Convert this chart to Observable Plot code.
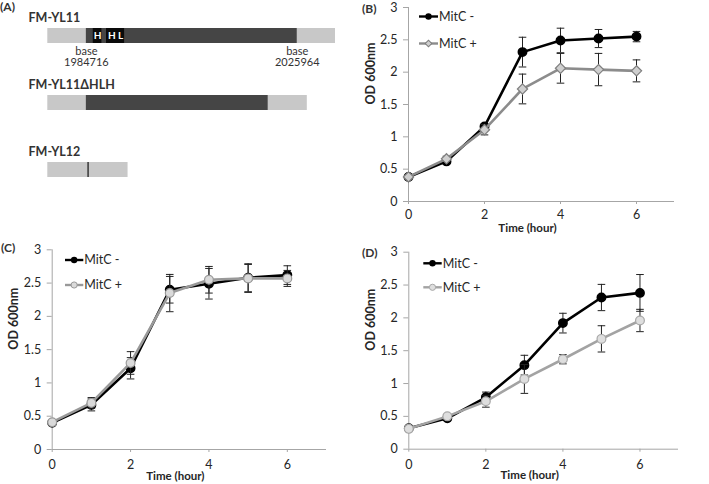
<!DOCTYPE html>
<html>
<head>
<meta charset="utf-8">
<script src="https://cdn.jsdelivr.net/npm/d3@7"></script>
<script src="https://cdn.jsdelivr.net/npm/@observablehq/plot@0.6"></script>
<style>
  html, body { margin: 0; padding: 0; background: #fff; }
  #fig { position: relative; width: 709px; height: 484px; overflow: hidden; background: #fff; font-family: Lato, "Open Sans", sans-serif; }
</style>
</head>
<body>
<div id="fig"></div>
<script>
// ---------- Panel A data (schematic, relative units along the locus) ----------
const constructs = ["FM-YL11", "FM-YL11ΔHLH", "FM-YL12"];
const flankStart = [0, 0, 0];
const flankEnd = [1000, 902, 279];
const orfStart = [134, 134];
const orfEnd = [867, 766];
const motifNames = ["H", "H L"];
const motifStart = [158, 204];
const motifEnd = [188, 267];
const baseLabels = ["base\n1984716", "base\n2025964"];
const basePos = [134, 867];
const insertionPos = [140];

// ---------- Growth curve data ----------
const hours = [0, 1, 2, 3, 4, 5, 6];
const seriesNames = ["MitC -", "MitC +"];
const xTicks = [0, 2, 4, 6];
const yTicks = [0, 0.5, 1, 1.5, 2, 2.5, 3];
const panelLetters = ["(A)", "(B)", "(C)", "(D)"];
const xTitle = "Time (hour)";
const yTitle = "OD 600nm";

const bMinus    = [0.38, 0.62, 1.16, 2.31, 2.49, 2.52, 2.55];
const bMinusErr = [0.02, 0.03, 0.04, 0.23, 0.19, 0.14, 0.08];
const bPlus     = [0.38, 0.66, 1.11, 1.74, 2.06, 2.04, 2.02];
const bPlusErr  = [0.02, 0.04, 0.08, 0.23, 0.23, 0.25, 0.17];

const cMinus    = [0.40, 0.67, 1.22, 2.40, 2.49, 2.58, 2.62];
const cMinusErr = [0.02, 0.09, 0.16, 0.20, 0.23, 0.21, 0.14];
const cPlus     = [0.41, 0.70, 1.30, 2.35, 2.55, 2.57, 2.57];
const cPlusErr  = [0.02, 0.08, 0.17, 0.28, 0.20, 0.21, 0.12];

const dMinus    = [0.32, 0.47, 0.79, 1.28, 1.92, 2.31, 2.38];
const dMinusErr = [0.02, 0.03, 0.08, 0.15, 0.15, 0.20, 0.28];
const dPlus     = [0.31, 0.50, 0.73, 1.07, 1.37, 1.68, 1.96];
const dPlusErr  = [0.02, 0.03, 0.09, 0.22, 0.07, 0.20, 0.17];

const FONT = "Lato, 'Open Sans', sans-serif";
const fig = document.getElementById("fig");

// custom symbols
const capSymbol = { draw(ctx, size) { const w = Math.sqrt(size / Math.PI); ctx.moveTo(-w, 0); ctx.lineTo(w, 0); } };
const vlineSymbol = { draw(ctx, size) { const h = Math.sqrt(size / Math.PI); ctx.moveTo(0, -h); ctx.lineTo(0, h); } };

function place(node, left, top) {
  node.style.position = "absolute";
  node.style.left = left + "px";
  node.style.top = top + "px";
  fig.appendChild(node);
}

// ---------- Panel A ----------
const flankRows = constructs.map((c, i) => ({c, s: flankStart[i], e: flankEnd[i]}));
const orfRows = orfStart.map((s, i) => ({c: constructs[i], s, e: orfEnd[i]}));
const motifRows = motifNames.map((m, i) => ({c: constructs[0], name: m, s: motifStart[i], e: motifEnd[i]}));
const baseRows = baseLabels.map((t, i) => ({c: constructs[0], t, x: basePos[i]}));
const insRows = insertionPos.map(x => ({c: constructs[2], x}));

const panelA = Plot.plot({
  width: 345, height: 200,
  margin: 0,
  x: {domain: [0, 1000], range: [47.3, 335], axis: null},
  y: {type: "point", domain: constructs, range: [34.8, 169.5], padding: 0, axis: null},
  style: {fontFamily: FONT, color: "#222", background: "transparent", overflow: "visible"},
  marks: [
    Plot.ruleY(flankRows, {y: "c", x1: "s", x2: "e", stroke: "#c8c8c8", strokeWidth: 15}),
    Plot.ruleY(orfRows, {y: "c", x1: "s", x2: "e", stroke: "#454545", strokeWidth: 15}),
    Plot.ruleY(motifRows, {y: "c", x1: "s", x2: "e", stroke: "#0a0a0a", strokeWidth: 15}),
    Plot.text(motifRows, {y: "c", x: d => (d.s + d.e) / 2, text: "name", fill: "white", fontWeight: "bold", fontSize: 10}),
    Plot.dot(insRows, {x: "x", y: "c", symbol: vlineSymbol, r: 7.5, stroke: "#222", strokeWidth: 1.3}),
    Plot.text(baseRows, {x: "x", y: "c", text: "t", lineAnchor: "top", dy: 11, fontSize: 11, lineHeight: 1.05, fill: "#333"}),
    Plot.text(constructs, {y: d => d, frameAnchor: "left", textAnchor: "start", dx: 28, dy: -18, text: d => d, fontWeight: "bold", fontSize: 12.5, fill: "#333"})
  ]
});
place(panelA, 0, 0);

// ---------- Growth panels ----------
function rows(vals, errs, s) {
  return hours.map((t, i) => ({t, v: vals[i], e: errs[i], s}));
}

function growth(o) {
  const minus = rows(o.minus, o.minusErr, seriesNames[0]);
  const plus = rows(o.plus, o.plusErr, seriesNames[1]);
  const errMarks = (data) => [
    Plot.ruleX(data, {x: "t", y1: d => d.v - d.e, y2: d => d.v + d.e, stroke: "#222", strokeWidth: 1}),
    Plot.dot(data, {x: "t", y: d => d.v + d.e, symbol: capSymbol, r: 3.8, stroke: "#222", strokeWidth: 1}),
    Plot.dot(data, {x: "t", y: d => d.v - d.e, symbol: capSymbol, r: 3.8, stroke: "#222", strokeWidth: 1})
  ];
  return Plot.plot({
    width: o.width, height: o.height,
    marginLeft: o.ml, marginRight: o.mr, marginTop: o.mt, marginBottom: o.mb,
    x: {domain: [0, 7]},
    y: {domain: [0, 3]},
    style: {fontFamily: FONT, fontSize: "12.5px", color: "#262626", background: "transparent", overflow: "visible"},
    marks: [
      Plot.axisY({ticks: yTicks, tickFormat: d => String(d), tickSize: 5, tickPadding: 6, stroke: "#a6a6a6", label: null, fontSize: 12.5}),
      Plot.axisX({ticks: xTicks, tickFormat: d => String(d), tickSize: 3, tickPadding: o.xtp, stroke: "#a6a6a6", label: null, fontSize: 12.5}),
      Plot.ruleY([0], {stroke: "#a6a6a6"}),
      Plot.ruleX([0], {stroke: "#a6a6a6"}),
      Plot.text([xTitle], {text: d => d, frameAnchor: "bottom", dy: o.xld, dx: o.xldx, fontWeight: "bold", fontSize: 11.5}),
      Plot.text([yTitle], {text: d => d, frameAnchor: "left", dx: -38, rotate: -90, fontWeight: "bold", fontSize: 12.5}),
      ...errMarks(minus),
      Plot.line(minus, {x: "t", y: "v", stroke: "#000", strokeWidth: 2.6}),
      Plot.dot(minus, {x: "t", y: "v", r: 4.2, fill: "#000", stroke: "#000"}),
      ...errMarks(plus),
      Plot.line(plus, {x: "t", y: "v", stroke: o.plusLine, strokeWidth: 2.6}),
      Plot.dot(plus, {x: "t", y: "v", symbol: o.plusSymbol, r: o.plusR, fill: o.plusFill, stroke: o.plusStroke, strokeWidth: 1.2})
    ]
  });
}

const panelB = growth({
  minus: bMinus, minusErr: bMinusErr, plus: bPlus, plusErr: bPlusErr,
  width: 349, height: 240, ml: 48, mr: 35, mt: 7, mb: 39,
  xtp: 6, xld: 30, xldx: -14,
  plusLine: "#8c8c8c", plusSymbol: "diamond2", plusR: 4.6, plusFill: "#cfcfcf", plusStroke: "#7f7f7f"
});
place(panelB, 360, 0);

const panelC = growth({
  minus: cMinus, minusErr: cMinusErr, plus: cPlus, plusErr: cPlusErr,
  width: 340, height: 244, ml: 51.7, mr: 14, mt: 9.3, mb: 35,
  xtp: 8, xld: 30, xldx: -14,
  plusLine: "#999999", plusSymbol: "circle", plusR: 4.4, plusFill: "#dadada", plusStroke: "#9a9a9a"
});
place(panelC, 0, 240);

const panelD = growth({
  minus: dMinus, minusErr: dMinusErr, plus: dPlus, plusErr: dPlusErr,
  width: 349, height: 244, ml: 48.3, mr: 31, mt: 11.7, mb: 35.3,
  xtp: 8, xld: 30, xldx: -14,
  plusLine: "#a3a3a3", plusSymbol: "circle", plusR: 4.4, plusFill: "#dedede", plusStroke: "#a8a8a8"
});
place(panelD, 360, 240);

// ---------- Overlay: panel letters and legends ----------
const overlay = d3.create("svg")
  .attr("width", 709).attr("height", 484)
  .style("position", "absolute").style("left", "0px").style("top", "0px")
  .style("font-family", FONT).style("pointer-events", "none");

const letterPos = [[0, 11], [362, 13], [1, 251.5], [362, 257]];
panelLetters.forEach((t, i) => {
  overlay.append("text").attr("x", letterPos[i][0]).attr("y", letterPos[i][1])
    .attr("font-size", 12).attr("font-weight", "bold").attr("fill", "#333").text(t);
});

const legends = [
  {x0: 419, x1: 438, y: [16.5, 43.5], plus: {sym: d3.symbolSquare, rot: 45, fill: "#cfcfcf", stroke: "#7f7f7f", line: "#8c8c8c"}},
  {x0: 65, x1: 83.3, y: [260, 285], plus: {sym: d3.symbolCircle, rot: 0, fill: "#dadada", stroke: "#9a9a9a", line: "#999999"}},
  {x0: 423.3, x1: 441.7, y: [263.3, 287.3], plus: {sym: d3.symbolCircle, rot: 0, fill: "#dedede", stroke: "#a8a8a8", line: "#a3a3a3"}}
];
legends.forEach(L => {
  seriesNames.forEach((name, i) => {
    const y = L.y[i];
    const g = overlay.append("g");
    const isPlus = i === 1;
    g.append("line").attr("x1", L.x0).attr("x2", L.x1).attr("y1", y).attr("y2", y)
      .attr("stroke", isPlus ? L.plus.line : "#000").attr("stroke-width", 2.4);
    const mx = (L.x0 + L.x1) / 2;
    if (isPlus) {
      g.append("path").attr("d", d3.symbol(L.plus.sym, L.plus.sym === d3.symbolSquare ? 22 : 30)())
        .attr("transform", `translate(${mx},${y}) rotate(${L.plus.rot})`)
        .attr("fill", L.plus.fill).attr("stroke", L.plus.stroke).attr("stroke-width", 1);
    } else {
      g.append("circle").attr("cx", mx).attr("cy", y).attr("r", 3.2).attr("fill", "#000");
    }
    g.append("text").attr("x", L.x1 + 1).attr("y", y).attr("dy", "0.35em")
      .attr("font-size", 12.5).attr("fill", "#262626").text(name);
  });
});
fig.appendChild(overlay.node());
</script>
</body>
</html>
